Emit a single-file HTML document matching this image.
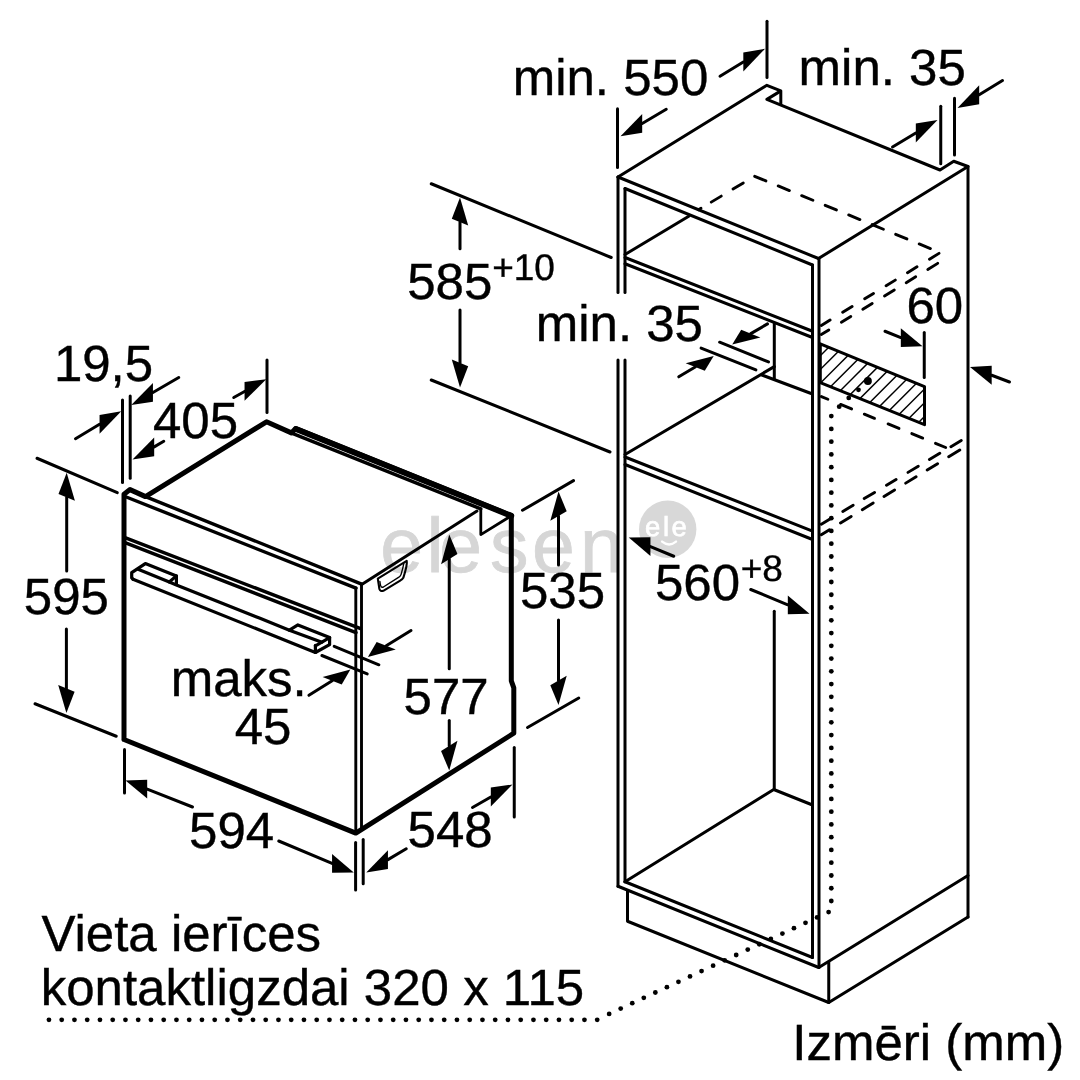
<!DOCTYPE html>
<html><head><meta charset="utf-8"><title>Izmēri</title>
<style>html,body{margin:0;padding:0;background:#fff}svg{display:block}text{font-family:"Liberation Sans",sans-serif;text-rendering:geometricPrecision}svg{will-change:transform}</style>
</head><body>
<svg width="1080" height="1080" viewBox="0 0 1080 1080">
<rect width="1080" height="1080" fill="#fff"/>
<text x="380.2 426.5 439.3 490 532 580" y="571.5" font-size="77" fill="#d6d6d6" stroke="#d6d6d6" stroke-width="0.8">elesen</text>
<circle cx="667.7" cy="529.3" r="28.7" fill="#d8d8d8"/>
<text x="645" y="535.5" font-size="27.5" fill="#fff" stroke="#fff" stroke-width="0.7" letter-spacing="2.6">ele</text>
<path d="M662.1,541.6 Q669,547.2 676,541.6" stroke="#fff" stroke-width="2.4" fill="none" stroke-linecap="round"/>
<g stroke="#000" fill="none" stroke-linecap="round" stroke-linejoin="round">
<path d="M124.00,739.50 L124.00,494.20 L130.00,489.60 L145.50,496.60 L266.50,421.80 L291.40,432.90 L295.60,428.60 L511.30,515.60 L511.30,680.80 L513.80,687.80 L513.80,733.20 L355.80,833.10 L124.00,739.50" stroke-width="5.0" stroke-linejoin="round"/>
<path d="M291.70,433.10 L480.80,508.90" stroke-width="3.4" />
<path d="M296.00,429.00 L511.30,515.80" stroke-width="5.8" />
<path d="M480.80,509.20 L480.80,534.60 L508.50,517.50" stroke-width="2.8" />
<path d="M477.00,511.00 L361.30,584.80" stroke-width="3.0" />
<path d="M145.50,496.60 L361.00,583.80" stroke-width="3.4" />
<path d="M125.00,496.50 L356.00,588.20" stroke-width="3.4" />
<path d="M125.00,537.60 L360.00,628.40" stroke-width="3.4" />
<path d="M125.00,542.60 L356.00,632.60" stroke-width="3.4" />
<path d="M355.80,588.00 L355.80,832.00" stroke-width="2.9" />
<path d="M361.50,584.00 L361.50,829.00" stroke-width="2.9" />
<path d="M377.8,578.6 L406.7,560.8 C407.2,563 406.2,569 403.3,577.8 Q402.3,579.6 400.6,580.3 L383.3,590.8 Q380.3,591.8 379.4,589 Z" stroke-width="2.1"/>
<path d="M379.9,581.5 Q380.5,586 381.1,586.6 Q381.8,587.8 383.4,587 L398.9,577.2 Q400.6,576 401.1,574.4 Q403,568 403.9,563" stroke-width="1.4"/>
<path d="M133.00,579.20 L131.70,577.90 L131.70,572.70 L145.30,563.60 L176.40,575.90 L176.40,584.40" stroke-width="3.2" />
<path d="M138.10,569.20 L169.30,582.00 L177.00,585.30 L260.00,618.30 L289.40,630.30 L321.90,642.20 L329.60,637.60" stroke-width="3.2" />
<path d="M169.30,582.00 L176.40,575.90" stroke-width="3.2" />
<path d="M133.00,579.20 L315.40,652.50 L329.60,644.70 L329.60,637.60 L297.90,624.90 L289.40,630.10" stroke-width="3.2" />
<path d="M315.40,645.40 L315.40,652.50" stroke-width="3.2" />
<path d="M315.40,645.80 L321.90,642.20" stroke-width="3.2" />
<path d="M334.20,646.40 L378.90,664.80" stroke-width="3.0" />
<path d="M321.90,655.50 L367.20,673.90" stroke-width="3.0" />
<path d="M411.00,630.50 L386.22,645.74" stroke-width="3.0"/>
<path d="M367.90,657.00 L376.65,641.91 L395.78,649.56 Z" fill="#000" stroke="none"/>
<path d="M308.90,695.30 L332.16,680.78" stroke-width="3.0"/>
<path d="M350.40,669.40 L322.60,676.96 L341.72,684.61 Z" fill="#000" stroke="none"/>
<path d="M122.50,400.00 L122.50,482.50" stroke-width="3.0" />
<path d="M130.20,396.00 L130.20,478.30" stroke-width="3.0" />
<path d="M75.50,438.75 L99.55,424.29" stroke-width="3.0"/>
<path d="M121.25,411.25 L99.55,414.89 L99.55,433.69 Z" fill="#000" stroke="none"/>
<path d="M178.75,377.50 L152.95,392.44" stroke-width="3.0"/>
<path d="M131.25,405.00 L152.95,383.04 L152.95,401.84 Z" fill="#000" stroke="none"/>
<path d="M163.75,441.25 L154.20,446.83" stroke-width="3.0"/>
<path d="M132.50,459.50 L154.20,437.43 L154.20,456.23 Z" fill="#000" stroke="none"/>
<path d="M233.75,397.50 L244.55,391.44" stroke-width="3.0"/>
<path d="M266.25,379.25 L244.55,382.04 L244.55,400.84 Z" fill="#000" stroke="none"/>
<path d="M267.00,360.00 L267.00,412.50" stroke-width="3.0" />
<path d="M37.00,458.25 L117.30,492.70" stroke-width="3.0" />
<path d="M35.00,703.75 L116.25,736.25" stroke-width="3.0" />
<path d="M66.70,571.00 L66.70,497.40" stroke-width="3.0"/>
<path d="M66.70,472.80 L58.50,494.12 L74.90,500.68 Z" fill="#000" stroke="none"/>
<path d="M66.40,629.00 L66.40,688.40" stroke-width="3.0"/>
<path d="M66.40,713.00 L58.20,685.12 L74.60,691.68 Z" fill="#000" stroke="none"/>
<path d="M124.50,749.50 L124.50,793.00" stroke-width="3.0" />
<path d="M192.50,807.00 L147.20,789.08" stroke-width="3.0"/>
<path d="M125.50,780.50 L147.20,779.68 L147.20,798.48 Z" fill="#000" stroke="none"/>
<path d="M278.75,841.00 L332.05,863.39" stroke-width="3.0"/>
<path d="M353.75,872.50 L332.05,853.99 L332.05,872.79 Z" fill="#000" stroke="none"/>
<path d="M355.60,842.50 L355.60,890.00" stroke-width="3.0" />
<path d="M363.20,839.60 L363.20,883.75" stroke-width="3.0" />
<path d="M406.25,848.75 L387.95,859.62" stroke-width="3.0"/>
<path d="M366.25,872.50 L387.95,850.22 L387.95,869.02 Z" fill="#000" stroke="none"/>
<path d="M472.50,807.50 L490.80,796.98" stroke-width="3.0"/>
<path d="M512.50,784.50 L490.80,787.58 L490.80,806.38 Z" fill="#000" stroke="none"/>
<path d="M514.25,747.50 L514.25,817.00" stroke-width="3.0" />
<path d="M449.25,668.75 L449.25,559.10" stroke-width="3.0"/>
<path d="M449.25,534.50 L441.05,564.14 L457.45,554.06 Z" fill="#000" stroke="none"/>
<path d="M449.25,720.50 L449.25,745.90" stroke-width="3.0"/>
<path d="M449.25,770.50 L441.05,751.07 L457.45,740.73 Z" fill="#000" stroke="none"/>
<path d="M522.50,510.30 L573.50,480.60" stroke-width="3.0" />
<path d="M527.50,727.50 L578.75,698.00" stroke-width="3.0" />
<path d="M558.50,565.00 L558.50,516.10" stroke-width="3.0"/>
<path d="M558.50,491.50 L550.30,520.86 L566.70,511.34 Z" fill="#000" stroke="none"/>
<path d="M558.50,620.00 L558.50,680.40" stroke-width="3.0"/>
<path d="M558.50,705.00 L550.30,685.16 L566.70,675.64 Z" fill="#000" stroke="none"/>
<path d="M431.25,183.75 L611.25,257.50" stroke-width="3.0" />
<path d="M431.25,380.00 L610.00,452.00" stroke-width="3.0" />
<path d="M460.00,248.75 L460.00,222.10" stroke-width="3.0"/>
<path d="M460.00,197.50 L451.80,218.82 L468.20,225.38 Z" fill="#000" stroke="none"/>
<path d="M460.00,310.00 L460.00,362.90" stroke-width="3.0"/>
<path d="M460.00,387.50 L451.80,359.62 L468.20,366.18 Z" fill="#000" stroke="none"/>
<path d="M618.00,177.00 L618.00,292.50" stroke-width="3.0" />
<path d="M618.00,360.00 L618.00,886.25" stroke-width="3.0" />
<path d="M625.00,188.50 L625.00,292.50" stroke-width="3.0" />
<path d="M625.00,360.00 L625.00,881.75" stroke-width="3.0" />
<path d="M618.00,177.00 L818.50,258.50" stroke-width="3.0" />
<path d="M625.00,188.50 L812.50,265.00" stroke-width="3.0" />
<path d="M812.50,265.00 L812.50,957.50" stroke-width="3.0" />
<path d="M819.00,258.50 L819.00,967.50" stroke-width="3.0" />
<path d="M618.00,177.00 L766.90,85.30 L780.80,90.80 L780.80,104.60" stroke-width="3.0" />
<path d="M779.60,91.60 L766.90,99.40 L940.00,170.00 L953.75,161.25 L968.00,166.50 L818.50,258.50" stroke-width="3.0" />
<path d="M968.00,166.50 L968.00,917.00" stroke-width="3.0" />
<path d="M618.00,886.25 L818.75,967.50 L968.00,875.50" stroke-width="3.0" />
<path d="M625.00,881.75 L812.50,957.50" stroke-width="3.0" />
<path d="M627.50,890.50 L627.50,921.25 L828.75,1002.50 L968.00,917.00" stroke-width="3.0" />
<path d="M828.75,962.00 L828.75,1002.50" stroke-width="3.0" />
<path d="M625.00,881.75 L773.75,789.50 L812.50,805.00" stroke-width="3.0" />
<path d="M774.25,611.25 L774.25,789.25" stroke-width="3.0" />
<path d="M625.00,257.50 L812.50,331.25" stroke-width="3.0" />
<path d="M625.00,263.75 L812.50,337.50" stroke-width="3.0" />
<path d="M625.00,254.50 L688.75,216.25" stroke-width="3.0" />
<path d="M625.00,457.00 L812.50,531.20" stroke-width="3.0" />
<path d="M625.00,464.50 L812.50,539.50" stroke-width="3.0" />
<path d="M625.00,454.50 L774.30,366.60" stroke-width="3.0" />
<path d="M774.30,323.00 L774.30,378.50" stroke-width="3.0" />
<path d="M761.90,375.00 L812.50,394.00" stroke-width="3.0" />
<path d="M719.60,342.20 L768.50,361.90" stroke-width="3.0" />
<path d="M701.10,348.10 L755.90,369.90" stroke-width="3.0" />
<path d="M767.50,323.90 L750.79,333.60" stroke-width="3.0"/>
<path d="M732.20,344.40 L741.23,329.78 L760.36,337.43 Z" fill="#000" stroke="none"/>
<path d="M678.75,376.80 L695.22,367.00" stroke-width="3.0"/>
<path d="M713.70,356.00 L685.66,363.17 L704.79,370.82 Z" fill="#000" stroke="none"/>
<path d="M617.50,108.75 L617.50,167.50" stroke-width="3.0" />
<path d="M767.00,21.25 L767.00,77.50" stroke-width="3.0" />
<path d="M666.25,109.25 L642.20,123.44" stroke-width="3.0"/>
<path d="M620.50,136.25 L642.20,114.04 L642.20,132.84 Z" fill="#000" stroke="none"/>
<path d="M720.00,76.25 L743.30,62.01" stroke-width="3.0"/>
<path d="M765.00,48.75 L743.30,52.61 L743.30,71.41 Z" fill="#000" stroke="none"/>
<path d="M940.75,106.25 L940.75,163.75" stroke-width="3.0" />
<path d="M954.50,98.25 L954.50,155.00" stroke-width="3.0" />
<path d="M892.50,147.00 L915.80,133.02" stroke-width="3.0"/>
<path d="M937.50,120.00 L915.80,123.62 L915.80,142.42 Z" fill="#000" stroke="none"/>
<path d="M1002.50,80.50 L979.20,94.74" stroke-width="3.0"/>
<path d="M957.50,108.00 L979.20,85.34 L979.20,104.14 Z" fill="#000" stroke="none"/>
<path d="M924.25,332.50 L924.25,377.50" stroke-width="3.0" />
<path d="M885.00,331.25 L900.80,337.57" stroke-width="3.0"/>
<path d="M922.50,346.25 L900.80,328.17 L900.80,346.97 Z" fill="#000" stroke="none"/>
<path d="M1009.50,382.00 L991.70,375.24" stroke-width="3.0"/>
<path d="M970.00,367.00 L991.70,365.84 L991.70,384.64 Z" fill="#000" stroke="none"/>
<path d="M673.75,556.25 L650.45,546.54" stroke-width="3.0"/>
<path d="M628.75,537.50 L650.45,537.14 L650.45,555.94 Z" fill="#000" stroke="none"/>
<path d="M750.75,589.50 L787.80,604.79" stroke-width="3.0"/>
<path d="M809.50,613.75 L787.80,595.39 L787.80,614.19 Z" fill="#000" stroke="none"/>
<clipPath id="hc"><path d="M820,343.75 L924.5,386.6 L924.5,424.7 L820,382.5 Z"/></clipPath>
<g clip-path="url(#hc)" stroke-width="1.5" stroke-linecap="butt">
<path d="M732.3,430 L822.3,340"/>
<path d="M746.0,430 L836.0,340"/>
<path d="M759.8,430 L849.8,340"/>
<path d="M773.5,430 L863.5,340"/>
<path d="M787.3,430 L877.3,340"/>
<path d="M801.0,430 L891.0,340"/>
<path d="M814.8,430 L904.8,340"/>
<path d="M828.5,430 L918.5,340"/>
<path d="M842.3,430 L932.3,340"/>
<path d="M856.0,430 L946.0,340"/>
<path d="M869.8,430 L959.8,340"/>
<path d="M883.5,430 L973.5,340"/>
<path d="M897.3,430 L987.3,340"/>
<path d="M911.0,430 L1001.0,340"/>
<path d="M924.8,430 L1014.8,340"/>
<path d="M938.5,430 L1028.5,340"/>
<path d="M952.3,430 L1042.3,340"/>
</g>
<path d="M820.30,343.90 L924.50,386.60 L924.50,424.70 L820.30,382.60 L820.30,343.90" stroke-width="3.0" />
<path d="M698.40,209.79 L701.00,208.24 M711.22,202.13 L721.28,196.12 M733.02,189.10 L743.28,182.97 " stroke-width="2.9"/>
<path d="M754.70,176.29 L765.90,180.90 M778.20,185.96 L789.40,190.56 M801.70,195.63 L812.90,200.23 M825.20,205.29 L836.40,209.90 M848.70,214.96 L859.90,219.56 M872.20,224.62 L883.40,229.23 M895.70,234.29 L906.90,238.89 M919.20,243.95 L930.40,248.56 " stroke-width="2.9"/>
<path d="M929.51,259.18 L938.99,253.38 M907.51,272.65 L916.99,266.84 M886.11,285.74 L895.29,280.12 M864.71,298.84 L873.49,293.46 M842.71,312.30 L852.09,306.56 M821.31,325.40 L830.09,320.03 " stroke-width="2.9"/>
<path d="M927.81,269.43 L937.69,263.38 M906.21,282.65 L915.69,276.84 M884.51,295.93 L894.29,289.94 M862.81,309.21 L872.19,303.46 M841.41,322.30 L850.79,316.56 M821.31,334.60 L828.79,330.03 " stroke-width="2.9"/>
<path d="M821.40,396.59 L827.90,399.25 M840.60,404.46 L851.60,408.96 M864.30,414.16 L874.50,418.34 M888.10,423.91 L899.00,428.38 M911.80,433.62 L922.70,438.08 M935.50,443.33 L945.70,447.50 " stroke-width="2.9"/>
<path d="M950.92,446.68 L961.28,440.47 M929.42,459.56 L939.78,453.35 M908.02,472.38 L918.28,466.23 M886.52,485.25 L896.08,479.52 M864.22,498.61 L874.58,492.40 M842.82,511.43 L853.18,505.22 M821.32,524.31 L831.68,518.10 " stroke-width="2.9"/>
<path d="M948.71,456.85 L959.79,450.08 M927.21,469.99 L937.59,463.65 M905.71,483.13 L916.09,476.79 M884.01,496.40 L894.59,489.93 M862.31,509.66 L873.19,503.01 M840.51,522.98 L851.19,516.45 M821.31,534.72 L829.49,529.72 " stroke-width="2.9"/>
</g>
<g fill="#000">
<circle cx="867.90" cy="381.00" r="3.95"/>
<circle cx="858.50" cy="389.80" r="2.4"/>
<circle cx="848.75" cy="397.90" r="2.4"/>
<circle cx="839.20" cy="406.70" r="2.4"/>
<circle cx="831.30" cy="901.00" r="2.4"/>
<circle cx="831.30" cy="888.24" r="2.4"/>
<circle cx="831.30" cy="875.48" r="2.4"/>
<circle cx="831.30" cy="862.72" r="2.4"/>
<circle cx="831.30" cy="849.96" r="2.4"/>
<circle cx="831.30" cy="837.20" r="2.4"/>
<circle cx="831.30" cy="824.44" r="2.4"/>
<circle cx="831.30" cy="811.68" r="2.4"/>
<circle cx="831.30" cy="798.92" r="2.4"/>
<circle cx="831.30" cy="786.16" r="2.4"/>
<circle cx="831.30" cy="773.40" r="2.4"/>
<circle cx="831.30" cy="760.64" r="2.4"/>
<circle cx="831.30" cy="747.88" r="2.4"/>
<circle cx="831.30" cy="735.12" r="2.4"/>
<circle cx="831.30" cy="722.36" r="2.4"/>
<circle cx="831.30" cy="709.60" r="2.4"/>
<circle cx="831.30" cy="696.84" r="2.4"/>
<circle cx="831.30" cy="684.08" r="2.4"/>
<circle cx="831.30" cy="671.32" r="2.4"/>
<circle cx="831.30" cy="658.56" r="2.4"/>
<circle cx="831.30" cy="645.80" r="2.4"/>
<circle cx="831.30" cy="633.04" r="2.4"/>
<circle cx="831.30" cy="620.28" r="2.4"/>
<circle cx="831.30" cy="607.52" r="2.4"/>
<circle cx="831.30" cy="594.76" r="2.4"/>
<circle cx="831.30" cy="582.00" r="2.4"/>
<circle cx="831.30" cy="569.24" r="2.4"/>
<circle cx="831.30" cy="556.48" r="2.4"/>
<circle cx="831.30" cy="543.72" r="2.4"/>
<circle cx="831.30" cy="530.96" r="2.4"/>
<circle cx="831.30" cy="518.20" r="2.4"/>
<circle cx="831.30" cy="505.44" r="2.4"/>
<circle cx="831.30" cy="492.68" r="2.4"/>
<circle cx="831.30" cy="479.92" r="2.4"/>
<circle cx="831.30" cy="467.16" r="2.4"/>
<circle cx="831.30" cy="454.40" r="2.4"/>
<circle cx="831.30" cy="441.64" r="2.4"/>
<circle cx="831.30" cy="428.88" r="2.4"/>
<circle cx="831.30" cy="416.12" r="2.4"/>
<circle cx="828.60" cy="912.10" r="2.4"/>
<circle cx="817.05" cy="917.46" r="2.4"/>
<circle cx="805.50" cy="922.82" r="2.4"/>
<circle cx="793.95" cy="928.18" r="2.4"/>
<circle cx="782.40" cy="933.54" r="2.4"/>
<circle cx="770.85" cy="938.90" r="2.4"/>
<circle cx="759.30" cy="944.26" r="2.4"/>
<circle cx="747.75" cy="949.62" r="2.4"/>
<circle cx="736.20" cy="954.98" r="2.4"/>
<circle cx="724.65" cy="960.34" r="2.4"/>
<circle cx="713.10" cy="965.70" r="2.4"/>
<circle cx="701.55" cy="971.06" r="2.4"/>
<circle cx="690.00" cy="976.42" r="2.4"/>
<circle cx="678.45" cy="981.78" r="2.4"/>
<circle cx="666.90" cy="987.14" r="2.4"/>
<circle cx="655.35" cy="992.50" r="2.4"/>
<circle cx="643.80" cy="997.86" r="2.4"/>
<circle cx="632.25" cy="1003.22" r="2.4"/>
<circle cx="620.70" cy="1008.58" r="2.4"/>
<circle cx="609.15" cy="1013.94" r="2.4"/>
<circle cx="597.20" cy="1019.80" r="2.4"/>
<circle cx="584.45" cy="1019.80" r="2.4"/>
<circle cx="571.70" cy="1019.80" r="2.4"/>
<circle cx="558.95" cy="1019.80" r="2.4"/>
<circle cx="546.20" cy="1019.80" r="2.4"/>
<circle cx="533.45" cy="1019.80" r="2.4"/>
<circle cx="520.70" cy="1019.80" r="2.4"/>
<circle cx="507.95" cy="1019.80" r="2.4"/>
<circle cx="495.20" cy="1019.80" r="2.4"/>
<circle cx="482.45" cy="1019.80" r="2.4"/>
<circle cx="469.70" cy="1019.80" r="2.4"/>
<circle cx="456.95" cy="1019.80" r="2.4"/>
<circle cx="444.20" cy="1019.80" r="2.4"/>
<circle cx="431.45" cy="1019.80" r="2.4"/>
<circle cx="418.70" cy="1019.80" r="2.4"/>
<circle cx="405.95" cy="1019.80" r="2.4"/>
<circle cx="393.20" cy="1019.80" r="2.4"/>
<circle cx="380.45" cy="1019.80" r="2.4"/>
<circle cx="367.70" cy="1019.80" r="2.4"/>
<circle cx="354.95" cy="1019.80" r="2.4"/>
<circle cx="342.20" cy="1019.80" r="2.4"/>
<circle cx="329.45" cy="1019.80" r="2.4"/>
<circle cx="316.70" cy="1019.80" r="2.4"/>
<circle cx="303.95" cy="1019.80" r="2.4"/>
<circle cx="291.20" cy="1019.80" r="2.4"/>
<circle cx="278.45" cy="1019.80" r="2.4"/>
<circle cx="265.70" cy="1019.80" r="2.4"/>
<circle cx="252.95" cy="1019.80" r="2.4"/>
<circle cx="240.20" cy="1019.80" r="2.4"/>
<circle cx="227.45" cy="1019.80" r="2.4"/>
<circle cx="214.70" cy="1019.80" r="2.4"/>
<circle cx="201.95" cy="1019.80" r="2.4"/>
<circle cx="189.20" cy="1019.80" r="2.4"/>
<circle cx="176.45" cy="1019.80" r="2.4"/>
<circle cx="163.70" cy="1019.80" r="2.4"/>
<circle cx="150.95" cy="1019.80" r="2.4"/>
<circle cx="138.20" cy="1019.80" r="2.4"/>
<circle cx="125.45" cy="1019.80" r="2.4"/>
<circle cx="112.70" cy="1019.80" r="2.4"/>
<circle cx="99.95" cy="1019.80" r="2.4"/>
<circle cx="87.20" cy="1019.80" r="2.4"/>
<circle cx="74.45" cy="1019.80" r="2.4"/>
<circle cx="61.70" cy="1019.80" r="2.4"/>
<circle cx="48.95" cy="1019.80" r="2.4"/>
</g>
<text x="53.88" y="381.00" font-size="51.00" fill="#000" stroke="#000" stroke-width="0.4" >19,5</text>
<text x="152.93" y="438.00" font-size="51.00" fill="#000" stroke="#000" stroke-width="0.4" >405</text>
<text x="23.83" y="614.40" font-size="51.00" fill="#000" stroke="#000" stroke-width="0.4" >595</text>
<text x="170.68" y="696.20" font-size="51.00" fill="#000" stroke="#000" stroke-width="0.4" >maks.</text>
<text x="234.64" y="743.75" font-size="51.00" fill="#000" stroke="#000" stroke-width="0.4" >45</text>
<text x="189.11" y="848.00" font-size="51.00" fill="#000" stroke="#000" stroke-width="0.4" >594</text>
<text x="407.54" y="847.40" font-size="51.00" fill="#000" stroke="#000" stroke-width="0.4" >548</text>
<text x="403.53" y="713.60" font-size="51.00" fill="#000" stroke="#000" stroke-width="0.4" >577</text>
<text x="519.98" y="607.50" font-size="51.00" fill="#000" stroke="#000" stroke-width="0.4" >535</text>
<text x="407.23" y="298.75" font-size="51.00" fill="#000" stroke="#000" stroke-width="0.4" >585</text>
<text x="492.16" y="279.50" font-size="37.00" fill="#000" stroke="#000" stroke-width="0.4" >+10</text>
<text x="512.69" y="95.00" font-size="51.00" fill="#000" stroke="#000" stroke-width="0.4" >min. 550</text>
<text x="798.60" y="85.00" font-size="51.00" fill="#000" stroke="#000" stroke-width="0.4" >min. 35</text>
<text x="535.72" y="341.00" font-size="51.00" fill="#000" stroke="#000" stroke-width="0.4" >min. 35</text>
<text x="906.38" y="322.50" font-size="51.00" fill="#000" stroke="#000" stroke-width="0.4" >60</text>
<text x="654.91" y="600.00" font-size="51.00" fill="#000" stroke="#000" stroke-width="0.4" >560</text>
<text x="740.65" y="581.25" font-size="37.00" fill="#000" stroke="#000" stroke-width="0.4" >+8</text>
<text x="41.40" y="951.00" font-size="51.00" fill="#000" stroke="#000" stroke-width="0.4" >Vieta ierīces</text>
<text x="40.70" y="1005.00" font-size="51.00" fill="#000" stroke="#000" stroke-width="0.4" >kontaktligzdai 320 x 115</text>
<text x="792.26" y="1060.00" font-size="51.00" fill="#000" stroke="#000" stroke-width="0.4" >Izmēri (mm)</text>
</svg>
</body></html>
